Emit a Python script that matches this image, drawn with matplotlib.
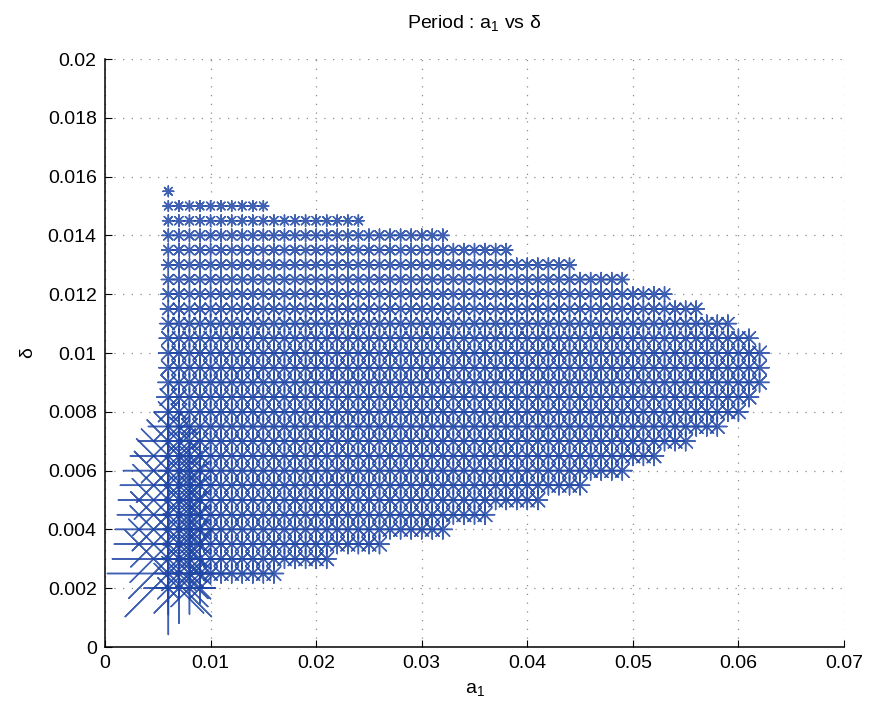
import numpy as np
import matplotlib
matplotlib.use("Agg")
import matplotlib.pyplot as plt
from matplotlib.ticker import FixedLocator, FixedFormatter

plt.rcParams['font.family'] = ['Liberation Sans', 'DejaVu Sans']
plt.rcParams['mathtext.default'] = 'regular'

# ---- data ----
delta_rows = [0.0155, 0.0150, 0.0145, 0.0140, 0.0135, 0.0130, 0.0125, 0.0120,
              0.0115, 0.0110, 0.0105, 0.0100, 0.0095, 0.0090, 0.0085, 0.0080,
              0.0075, 0.0070, 0.0065, 0.0060, 0.0055, 0.0050, 0.0045, 0.0040,
              0.0035, 0.0030, 0.0025, 0.0020]
a1_first = 0.006
a1_step = 0.001
a1_last = [0.006, 0.015, 0.024, 0.032, 0.038, 0.044, 0.049, 0.053,
           0.056, 0.059, 0.061, 0.062, 0.062, 0.062, 0.061, 0.060,
           0.058, 0.055, 0.052, 0.049, 0.045, 0.041, 0.036, 0.032,
           0.026, 0.021, 0.016, 0.009]
# period (arbitrary units) in the bulk of each row
period_base = [2.7, 2.7, 2.9, 3.2, 3.3, 3.4, 3.5, 3.7,
               4.0, 4.3, 4.6, 4.8, 4.8, 4.8, 4.8, 4.8,
               4.8, 4.8, 4.8, 4.8, 4.8, 4.8, 4.8, 4.8,
               4.8, 4.8, 4.8, 4.8]
# period at the first columns a1 = 0.006, 0.007, 0.008, 0.009
period_c006 = [2.7, 2.7, 2.9, 3.2, 3.3, 3.4, 3.5, 3.7,
               4.0, 4.3, 4.6, 4.8, 4.8, 5.2, 5.8, 7.0,
               10.0, 15.0, 19.0, 22.5, 24.0, 25.0, 25.5, 26.5,
               27.0, 28.0, 30.5, 7.5]
period_c007 = [2.7, 2.7, 2.9, 3.2, 3.3, 3.4, 3.5, 3.7,
               4.0, 4.3, 4.6, 4.8, 4.8, 4.8, 5.0, 5.5,
               6.5, 8.0, 9.0, 10.0, 10.0, 10.5, 10.5, 11.0,
               11.0, 11.0, 12.0, 17.5]
period_c008 = [2.7, 2.7, 2.9, 3.2, 3.3, 3.4, 3.5, 3.7,
               4.0, 4.3, 4.6, 4.8, 4.8, 4.8, 4.8, 5.0,
               5.5, 6.5, 7.5, 8.5, 8.5, 9.0, 9.0, 9.0,
               9.0, 9.5, 10.0, 13.0]
period_c009 = [2.7, 2.7, 2.9, 3.2, 3.3, 3.4, 3.5, 3.7,
               4.0, 4.3, 4.6, 4.8, 4.8, 4.8, 4.8, 4.8,
               5.0, 5.5, 6.0, 6.5, 6.5, 7.0, 7.0, 7.0,
               7.0, 7.0, 7.5, 7.5]

xticks = [0, 0.01, 0.02, 0.03, 0.04, 0.05, 0.06, 0.07]
xtick_labels = ['0', '0.01', '0.02', '0.03', '0.04', '0.05', '0.06', '0.07']
yticks = [0, 0.002, 0.004, 0.006, 0.008, 0.010, 0.012, 0.014, 0.016, 0.018, 0.020]
ytick_labels = ['0', '0.002', '0.004', '0.006', '0.008', '0.01', '0.012',
                '0.014', '0.016', '0.018', '0.02']

# ---- build points ----
DPI = 100
PX_PER_PERIOD = 4.0
xs, ys, ss = [], [], []
for i, d in enumerate(delta_rows):
    n = int(round((a1_last[i] - a1_first) / a1_step)) + 1
    for k in range(n):
        a = a1_first + k * a1_step
        p = period_base[i]
        if k == 0:
            p = max(p, period_c006[i])
        elif k == 1:
            p = max(p, period_c007[i])
        elif k == 2:
            p = max(p, period_c008[i])
        elif k == 3:
            p = max(p, period_c009[i])
        xs.append(a)
        ys.append(d)
        px = p * PX_PER_PERIOD
        ms = px * 72.0 / DPI
        ss.append(ms ** 2)

fig = plt.figure(figsize=(8.7, 7.05), dpi=DPI)
ax = fig.add_axes([105 / 870, 1 - 647 / 705, (844 - 105) / 870, (647 - 59) / 705])

ax.scatter(xs, ys, s=ss, marker=(8, 2, 0), c='#1f46a6', linewidths=1.05,
           alpha=0.85, zorder=3)

ax.set_xlim(0, 0.07)
ax.set_ylim(0, 0.02)
ax.xaxis.set_major_locator(FixedLocator(xticks))
ax.xaxis.set_major_formatter(FixedFormatter(xtick_labels))
ax.yaxis.set_major_locator(FixedLocator(yticks))
ax.yaxis.set_major_formatter(FixedFormatter(ytick_labels))
ax.tick_params(direction='in', length=5, width=0.8, labelsize=14, pad=6,
               colors='black')
ax.grid(True, color='0.55', linestyle=(0, (1, 6)), linewidth=0.9)
ax.set_axisbelow(True)
for side in ['top', 'right']:
    ax.spines[side].set_visible(False)
for side in ['left', 'bottom']:
    ax.spines[side].set_linewidth(1.1)

ax.set_title('Period : a$_1$ vs δ', fontsize=14, pad=22)
ax.set_xlabel('a$_1$', fontsize=14, labelpad=6)
ax.set_ylabel('δ', fontsize=14, labelpad=8)

fig.savefig('out.png', dpi=DPI, facecolor='white')
